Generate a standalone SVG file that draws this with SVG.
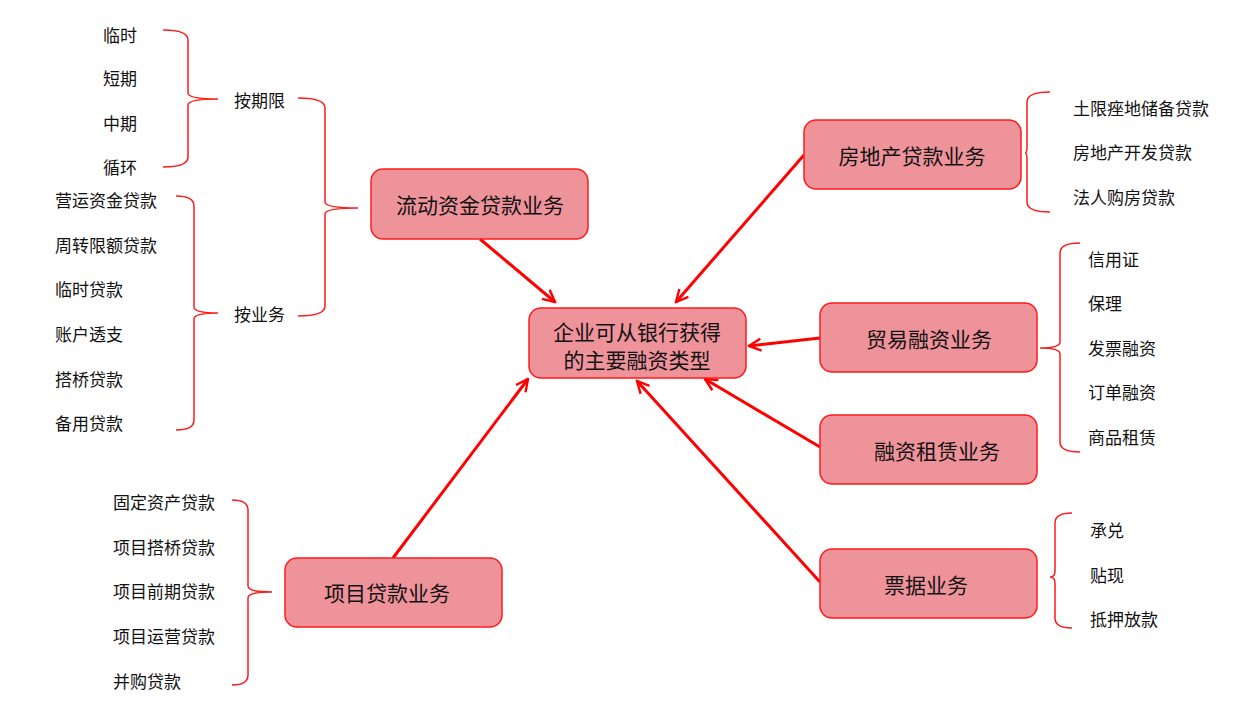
<svg xmlns="http://www.w3.org/2000/svg" width="1257" height="711" viewBox="0 0 1257 711">
<style>
.n rect{fill:#ef939b;stroke:#ff1a1a;stroke-width:1.5}
.n text{font-family:"Noto Sans CJK SC",sans-serif;font-size:21px;fill:#111;text-anchor:middle;dominant-baseline:central}
.t{font-family:"Noto Sans CJK SC",sans-serif;font-size:17px;fill:#111;dominant-baseline:central}
.b{fill:none;stroke:#ff1a1a;stroke-width:1.5}
.c line{stroke:#ff0000;stroke-width:3;marker-end:url(#ah)}
</style>
<defs><marker id="ah" viewBox="0 0 10 10" refX="9" refY="5" markerWidth="5" markerHeight="5" orient="auto" markerUnits="strokeWidth"><path d="M1,1 L9,5 L1,9" fill="none" stroke="#ff0000" stroke-width="1.6"/></marker></defs>
<rect width="1257" height="711" fill="#fff"/>
<g class="c">
<line x1="480" y1="239" x2="555" y2="302"/>
<line x1="804" y1="155" x2="676" y2="302"/>
<line x1="820" y1="338" x2="749" y2="346"/>
<line x1="820" y1="447" x2="705" y2="379"/>
<line x1="820" y1="582" x2="637" y2="381"/>
<line x1="393" y1="558" x2="528" y2="379"/>
</g>
<g id="center" class="n"><rect x="529" y="308" width="217" height="70" rx="12"/><text x="637" y="331">企业可从银行获得</text><text x="637" y="359">的主要融资类型</text></g>
<g id="liudong" class="n"><rect x="371" y="169" width="217" height="70" rx="12"/><text x="480" y="204">流动资金贷款业务</text></g>
<g id="fangdichan" class="n"><rect x="804" y="120" width="217" height="69" rx="12"/><text x="912" y="155">房地产贷款业务</text></g>
<g id="maoyi" class="n"><rect x="820" y="303" width="217" height="69" rx="12"/><text x="929" y="338">贸易融资业务</text></g>
<g id="zulin" class="n"><rect x="820" y="415" width="217" height="69" rx="12"/><text x="937" y="450">融资租赁业务</text></g>
<g id="piaoju" class="n"><rect x="820" y="549" width="217" height="69" rx="12"/><text x="926" y="584">票据业务</text></g>
<g id="xiangmu" class="n"><rect x="285" y="558" width="217" height="69" rx="12"/><text x="387" y="592">项目贷款业务</text></g>
<g id="braces">
<path class="b" d="M163,30 Q188,30 188,40 V93 Q188,99 218,99 Q188,99 188,105 V157 Q188,167 163,167"/>
<path class="b" d="M298,98 Q325,98 325,108 V202 Q325,208 358,208 Q325,208 325,214 V306 Q325,316 298,316"/>
<path class="b" d="M176,196 Q194,196 194,206 V307 Q194,313 218,313 Q194,313 194,319 V420 Q194,430 176,430"/>
<path class="b" d="M232,500 Q248,500 248,510 V586 Q248,592 272,592 Q248,592 248,598 V675 Q248,685 232,685"/>
<path class="b" d="M1050,92 Q1027,92 1027,102 V147 Q1027,153 1025,153 Q1027,153 1027,159 V202 Q1027,212 1050,212"/>
<path class="b" d="M1080,243 Q1060,243 1060,253 V342 Q1060,348 1040,348 Q1060,348 1060,354 V442 Q1060,452 1080,452"/>
<path class="b" d="M1072,513 Q1055,513 1055,523 V571 Q1055,577 1050,577 Q1055,577 1055,583 V618 Q1055,628 1072,628"/>
</g>
<g id="labels">
<text class="t" x="234" y="99">按期限</text>
<text class="t" x="234" y="313">按业务</text>
<text class="t" x="103" y="34">临时</text><text class="t" x="103" y="77">短期</text><text class="t" x="103" y="122">中期</text><text class="t" x="103" y="166">循环</text>
<text class="t" x="55" y="199">营运资金贷款</text><text class="t" x="55" y="244">周转限额贷款</text><text class="t" x="55" y="288">临时贷款</text><text class="t" x="55" y="333">账户透支</text><text class="t" x="55" y="378">搭桥贷款</text><text class="t" x="55" y="422">备用贷款</text>
<text class="t" x="113" y="501">固定资产贷款</text><text class="t" x="113" y="546">项目搭桥贷款</text><text class="t" x="113" y="590">项目前期贷款</text><text class="t" x="113" y="635">项目运营贷款</text><text class="t" x="113" y="680">并购贷款</text>
<text class="t" x="1073" y="107">土限痤地储备贷款</text><text class="t" x="1073" y="151">房地产开发贷款</text><text class="t" x="1073" y="196">法人购房贷款</text>
<text class="t" x="1088" y="258">信用证</text><text class="t" x="1088" y="302">保理</text><text class="t" x="1088" y="347">发票融资</text><text class="t" x="1088" y="391">订单融资</text><text class="t" x="1088" y="436">商品租赁</text>
<text class="t" x="1090" y="529">承兑</text><text class="t" x="1090" y="574">贴现</text><text class="t" x="1090" y="618">抵押放款</text>
</g>
</svg>
